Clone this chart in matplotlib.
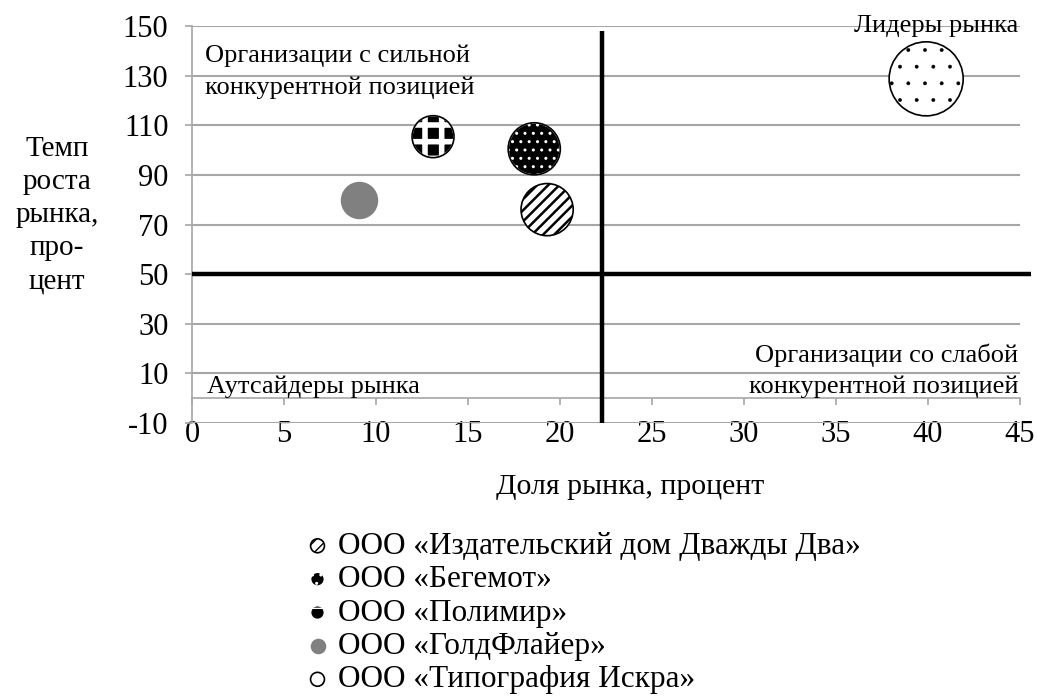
import matplotlib
matplotlib.use("Agg")
import matplotlib.pyplot as plt
from matplotlib.legend_handler import HandlerPathCollection

plt.rcParams['font.family'] = ['Liberation Serif', 'DejaVu Serif']
plt.rcParams['axes.unicode_minus'] = False

# ---- data ----
companies = ["ООО «Издательский дом Дважды Два»", "ООО «Бегемот»", "ООО «Полимир»",
             "ООО «ГолдФлайер»", "ООО «Типография Искра»"]
market_share = [19.3, 18.6, 13.1, 9.1, 39.9]        # x, %
market_growth = [76, 100.5, 105.4, 80, 128.7]       # y, %
bubble_size = [6.8, 6.8, 4.4, 3.2, 13.7]            # relative bubble area
share_divider = 22.3
growth_divider = 50
x_ticks = list(range(0, 50, 5))
y_ticks = list(range(-10, 170, 20))

W, H = 1037, 697
fig = plt.figure(figsize=(W / 100, H / 100), dpi=100)
ax = fig.add_axes([192 / W, 1 - 423 / H, (1020 - 192) / W, (423 - 26) / H])
ax.set_xlim(0, 45)
ax.set_ylim(-10, 150)

grid_c = '#a6a6a6'
for s in ['top', 'right']:
    ax.spines[s].set_visible(False)
ax.spines['left'].set_color(grid_c)
ax.spines['bottom'].set_color(grid_c)
ax.spines['bottom'].set_position(('data', 0))
ax.spines['left'].set_linewidth(1.2)
ax.spines['bottom'].set_linewidth(1.2)

ax.set_xticks(x_ticks)
ax.set_yticks(y_ticks)
ax.tick_params(axis='both', colors=grid_c, labelcolor='black', labelsize=22, width=1.2, length=5)
ax.tick_params(axis='x', pad=11)
ax.tick_params(axis='y', pad=12)
ax.yaxis.grid(True, color=grid_c, linewidth=1.5)
ax.set_axisbelow(True)

# quadrant dividers
ax.plot([share_divider, share_divider], [-10, 148], color='black', lw=3.2, zorder=3,
        solid_capstyle='butt')
ax.plot([0, 45.6], [growth_divider, growth_divider], color='black', lw=3.2, zorder=3,
        clip_on=False, solid_capstyle='butt')

px_per_pt = 100 / 72
def area(v):
    # bubble area proportional to value
    r_px = 10.0 * v ** 0.5
    return (2 * r_px / px_per_pt) ** 2

styles = [
    dict(facecolor='white', edgecolor='black', hatch='///', hlw=1.8),
    dict(facecolor='black', edgecolor='white', hatch='..', hlw=1.0),
    dict(facecolor='black', edgecolor='white', hatch='+', hlw=4.0),
    dict(facecolor='#808080', edgecolor='#808080', hatch=None, hlw=1.0),
    dict(facecolor='white', edgecolor='black', hatch='.', hlw=0.3),
]

handles = []
hmap = {}
for i in range(len(companies)):
    st = styles[i]
    with plt.rc_context({'hatch.linewidth': st['hlw']}):
        sc = ax.scatter([market_share[i]], [market_growth[i]], s=[area(bubble_size[i])],
                        facecolor=st['facecolor'], edgecolor=st['edgecolor'],
                        hatch=st['hatch'], linewidth=1.2, zorder=4, label=companies[i])
    if st['edgecolor'] == 'white':
        ax.scatter([market_share[i]], [market_growth[i]], s=[area(bubble_size[i])],
                   facecolor='none', edgecolor='black', linewidth=1.2, zorder=5)
    handles.append(sc)
    hmap[sc] = HandlerPathCollection(sizes=[100])

# quadrant labels
fq = 19
ax.text(0.7, 142.5, "Организации с сильной\nконкурентной позицией", fontsize=fq,
        ha='left', va='top', linespacing=1.55, zorder=6)
ax.text(44.9, 154.5, "Лидеры рынка", fontsize=fq, ha='right', va='top', zorder=6)
ax.text(44.9, 0.0, "Организации со слабой\nконкурентной позицией", fontsize=fq,
        ha='right', va='bottom', linespacing=1.5, zorder=6)
ax.text(0.8, 0.0, "Аутсайдеры рынка", fontsize=fq, ha='left', va='bottom', zorder=6)

# axis titles
fs = 22.5
fig.text(630 / W, 1 - 487 / H, "Доля рынка, процент", fontsize=21.5, ha='center', va='center')
fig.text(57 / W, 1 - 215 / H, "Темп\nроста\nрынка,\nпро-\nцент", fontsize=21,
         ha='center', va='center', linespacing=1.36)

leg = fig.legend(handles[:], companies, handler_map=hmap, loc='upper left',
                 bbox_to_anchor=(305 / W, 1 - 532 / H), frameon=False, fontsize=fs,
                 handletextpad=0.24, labelspacing=0.14, borderpad=0, borderaxespad=0,
                 handlelength=0.8)

fig.savefig("out.png", dpi=100)
